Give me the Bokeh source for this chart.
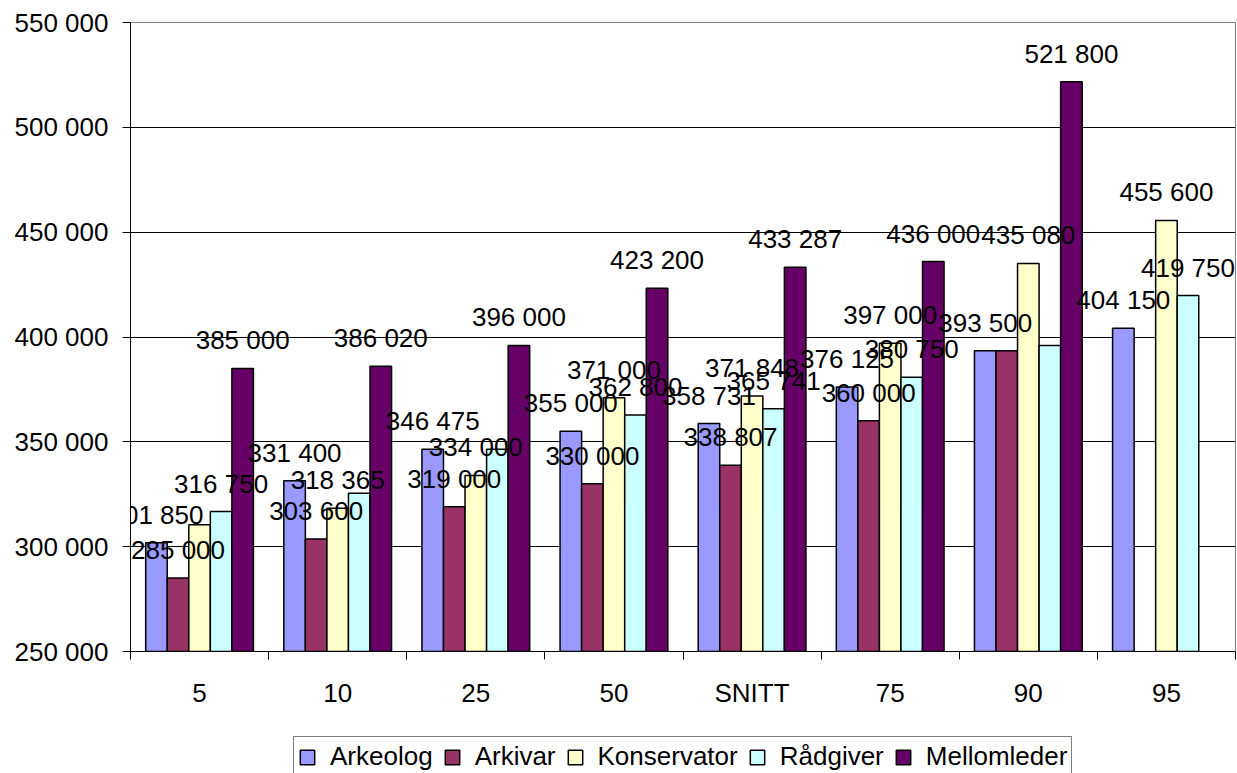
import numpy as np
from bokeh.plotting import figure
from bokeh.layouts import column
from bokeh.models import (Range1d, FixedTicker, CustomJSTickFormatter, Legend,
                          LegendItem, ColumnDataSource)
from bokeh.core.properties import value
from bokeh.embed import file_html
from bokeh.resources import INLINE

# ---------------- data ----------------
categories = ["5", "10", "25", "50", "SNITT", "75", "90", "95"]
series_names = ["Arkeolog", "Arkivar", "Konservator", "Rådgiver", "Mellomleder"]

arkeolog = [301850, 331400, 346475, 355000, 358731, 376125, 393500, 404150]
arkivar = [285000, 303600, 319000, 330000, 338807, 360000, 393500, None]
konservator = [310500, 318365, 334000, 371000, 371848, 397000, 435080, 455600]
radgiver = [316750, 325500, 346500, 362800, 365741, 380750, 396000, 419750]
mellomleder = [385000, 386020, 396000, 423200, 433287, 436000, 521800, None]

# whether each value carries a visible data label in the original chart
arkeolog_shown = [True, True, True, True, True, True, True, True]
arkivar_shown = [True, True, True, True, True, True, False, False]
konservator_shown = [False, True, True, True, True, True, True, True]
radgiver_shown = [True, False, False, True, True, True, False, True]
mellomleder_shown = [True, True, True, True, True, True, True, False]

y_ticks = [250000, 300000, 350000, 400000, 450000, 500000, 550000]

colors = ["#9999FF", "#993366", "#FFFFCC", "#CCFFFF", "#660066"]

series_values = [arkeolog, arkivar, konservator, radgiver, mellomleder]
series_shown = [arkeolog_shown, arkivar_shown, konservator_shown, radgiver_shown, mellomleder_shown]

FONT = "Liberation Sans"
n_cat = len(categories)
bar_w = 0.156
W = 1236

p = figure(width=W, height=733,
           x_range=Range1d(0, n_cat), y_range=Range1d(y_ticks[0], y_ticks[-1]),
           output_backend="svg", toolbar_location=None,
           min_border_left=130, min_border_right=1, min_border_top=22, min_border_bottom=82)

p.background_fill_color = "white"
p.border_fill_color = "white"
p.outline_line_color = "#808080"
p.outline_line_width = 1

# x axis: labels in the middle of each category, ticks at the boundaries
centers = [i + 0.5 for i in range(n_cat)]
p.xaxis.ticker = FixedTicker(ticks=centers, minor_ticks=list(range(n_cat + 1)))
p.xaxis.major_label_overrides = {c: cat for c, cat in zip(centers, categories)}
p.xaxis.major_tick_in = 0
p.xaxis.major_tick_out = 0
p.xaxis.minor_tick_in = 0
p.xaxis.minor_tick_out = 8
p.xaxis.minor_tick_line_color = "black"
p.xaxis.axis_line_color = "black"
p.xaxis.axis_line_width = 1
p.xaxis.major_label_standoff = 18
p.xaxis.major_label_text_font = FONT
p.xaxis.major_label_text_font_size = "26px"
p.xaxis.major_label_text_color = "black"
p.xgrid.visible = False

# y axis
p.yaxis.ticker = FixedTicker(ticks=y_ticks, minor_ticks=[])
p.yaxis.formatter = CustomJSTickFormatter(
    code="return Math.round(tick).toString().replace(/\\B(?=(\\d{3})+(?!\\d))/g, ' ');")
p.yaxis.major_tick_in = 0
p.yaxis.major_tick_out = 8
p.yaxis.minor_tick_line_color = None
p.yaxis.axis_line_color = "black"
p.yaxis.major_tick_line_color = "black"
p.yaxis.major_label_standoff = 14
p.yaxis.major_label_text_font = FONT
p.yaxis.major_label_text_font_size = "26px"
p.yaxis.major_label_text_color = "black"
p.ygrid.grid_line_color = "black"
p.ygrid.grid_line_width = 1
p.ygrid.ticker = FixedTicker(ticks=y_ticks)

bar_sources = []
label_sources = []
for i, (name, vals, shown, col) in enumerate(zip(series_names, series_values, series_shown, colors)):
    xs = [c + (i - 2) * bar_w for c in centers]
    tops = [np.nan if v is None else v for v in vals]
    src = ColumnDataSource(dict(x=xs, top=tops))
    bar_sources.append(src)
    p.vbar(x="x", top="top", bottom=y_ticks[0], width=bar_w, source=src,
           fill_color=col, line_color="black", line_width=1.5)
    lx, ly, lt = [], [], []
    for x, v, s in zip(xs, vals, shown):
        if v is not None and s:
            lx.append(x)
            ly.append(v)
            lt.append(f"{v:,}".replace(",", " "))
    label_sources.append(ColumnDataSource(dict(x=lx, y=ly, text=lt)))

for src in label_sources:
    p.text(x="x", y="y", text="text", source=src, text_align="center",
           text_baseline="alphabetic", y_offset=-28,
           text_font=value(FONT), text_font_size="26px", text_color="black")

# ---------------- legend strip (cut off at the bottom as in the original) ----------------
pl = figure(width=W, height=40, x_range=Range1d(0, n_cat), y_range=Range1d(y_ticks[0], y_ticks[-1]),
            output_backend="svg", toolbar_location=None,
            min_border_left=130, min_border_right=1, min_border_top=0, min_border_bottom=0)
pl.axis.visible = False
pl.grid.visible = False
pl.outline_line_color = None
pl.background_fill_color = "white"
pl.border_fill_color = "white"

items = []
for name, col, src in zip(series_names, colors, bar_sources):
    r = pl.vbar(x="x", top="top", bottom=y_ticks[0], width=bar_w, source=src,
                fill_color=col, line_color="black", line_width=1.5, visible=False)
    items.append(LegendItem(label=name, renderers=[r]))

legend = Legend(items=items, orientation="horizontal", location=(163, -4),
                border_line_color="black", border_line_width=1,
                background_fill_color="white", background_fill_alpha=1.0,
                inactive_fill_alpha=0.0,
                padding=4, spacing=10, margin=0,
                glyph_width=18, glyph_height=18, label_standoff=14,
                label_text_font=FONT, label_text_font_size="26px",
                label_text_color="black")
pl.add_layout(legend)

layout = column(p, pl, spacing=0)
open("out.html", "w").write(file_html(layout, INLINE))
